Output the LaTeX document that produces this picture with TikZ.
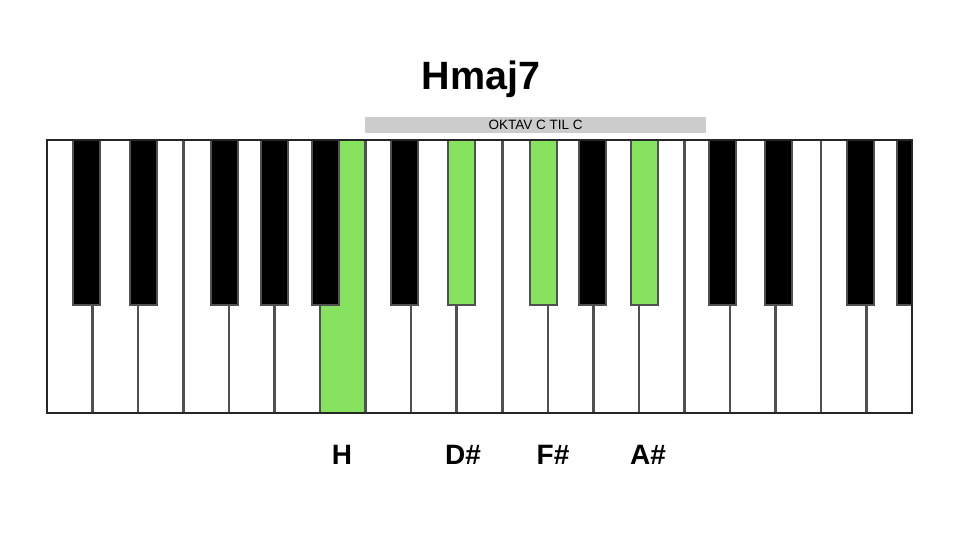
\documentclass[tikz,border=0pt]{standalone}
\usepackage{fontspec}
\setmainfont{Liberation Sans}
\definecolor{keygreen}{RGB}{135,226,95}
\definecolor{keyedge}{RGB}{80,80,80}
\definecolor{barfill}{RGB}{204,204,204}
\begin{document}
\begin{tikzpicture}[x=1pt,y=-1pt,
  whitekey/.style={draw=keyedge,line width=2.5pt,fill=white},
  greenkey/.style={draw=keyedge,line width=2.5pt,fill=keygreen},
  blackkey/.style={draw=keyedge,line width=2pt,fill=black},
  greenblack/.style={draw=keyedge,line width=2pt,fill=keygreen},
  notelabel/.style={font=\fontsize{28}{32}\selectfont\bfseries,inner sep=0pt}]
\useasboundingbox (0,0) rectangle (960,540);
\fill[white] (0,0) rectangle (960,540);
% title
\node[font=\fontsize{39.5}{44}\selectfont\bfseries,inner sep=0pt] (title) at (481,79) {Hmaj7};
% octave bar
\node[fill=barfill,minimum width=341pt,minimum height=16pt,inner sep=0pt,
      font=\fontsize{13.5}{15}\selectfont] (bar) at (535.5,125) {OKTAV C TIL C};
% white keys
\foreach \i in {0,...,18}{
  \draw[whitekey] ({47+\i*45.526},140) rectangle ({47+(\i+1)*45.526},413);
}
\draw[greenkey] ({47+6*45.526},140) rectangle ({47+7*45.526},413);
% black keys
\foreach \xl in {73,130,211,261,312,391,579,709,765,847}{
  \draw[blackkey] (\xl,140) rectangle ++(27,165);
}
\foreach \xl in {448,530,631}{
  \draw[greenblack] (\xl,140) rectangle ++(27,165);
}
\draw[blackkey] (897,140) rectangle (912,305);
% outer border
\draw[line width=2pt,color=black!85] (47,140) rectangle (912,413);
% labels
\node[notelabel] (lH) at (342,455) {H};
\node[notelabel] (lD) at (463,455) {D\#};
\node[notelabel] (lF) at (553,455) {F\#};
\node[notelabel] (lA) at (648,455) {A\#};
\end{tikzpicture}
\end{document}
